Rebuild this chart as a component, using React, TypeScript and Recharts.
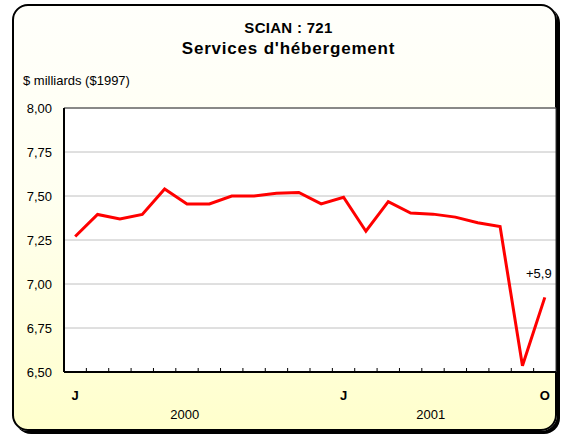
import { LineChart, Line, XAxis, YAxis, CartesianGrid, LabelList } from "recharts";

// Jan 2000 -> Oct 2001, $ milliards ($1997)
const mois = ["J", "F", "M", "A", "M", "J", "J", "A", "S", "O", "N", "D",
  "J", "F", "M", "A", "M", "J", "J", "A", "S", "O"];
const valeurs = [7.27, 7.395, 7.37, 7.395, 7.54, 7.455, 7.455, 7.5, 7.5, 7.515, 7.52,
  7.455, 7.493, 7.3, 7.468, 7.403, 7.397, 7.38, 7.348, 7.326, 6.536, 6.924];
const moisAffiches = [0, 12, 21];
const annees = ["2000", "2001"];
const positionAnnees = [4.9, 15.9];
const graduationsY = [6.5, 6.75, 7.0, 7.25, 7.5, 7.75, 8.0];
const variation = "+5,9";

const data = valeurs.map((v, i) => ({ i, mois: mois[i], valeur: v }));
const bornes = mois.slice(0, -1).map((_, i) => i + 0.5);

const police = "Arial, 'Liberation Sans', sans-serif";

const EtiquetteFin = (props: any) => {
  const { x, y, index } = props;
  if (index !== valeurs.length - 1) return null;
  return (
    <text x={x - 6} y={y - 19} textAnchor="middle" fontSize={13} fill="#000" fontFamily={police}>
      {variation}
    </text>
  );
};

export default function App() {
  const domaineX = [-0.5, mois.length - 0.5];
  return (
    <div style={{ position: "absolute", left: 0, top: 0, width: 563, height: 434, fontFamily: police }}>
      <div
        style={{
          position: "absolute",
          left: 12,
          top: 4,
          width: 541,
          height: 423,
          border: "2px solid #000",
          borderRadius: 16,
          boxShadow: "3px 3px 0 #000",
          background: "linear-gradient(to bottom, #FFFFFB 0%, #FFFFF0 45%, #FFFFCC 100%)",
        }}
      />
      <div style={{ position: "absolute", left: 0, width: 577, top: 19, textAlign: "center", fontWeight: "bold", fontSize: 15, letterSpacing: 0.3, lineHeight: "18px" }}>
        SCIAN : 721
      </div>
      <div style={{ position: "absolute", left: 0, width: 577, top: 39, textAlign: "center", fontWeight: "bold", fontSize: 17, letterSpacing: 0.8, lineHeight: "20px" }}>
        Services d'hébergement
      </div>
      <div style={{ position: "absolute", left: 23, top: 72, fontSize: 13, lineHeight: "17px" }}>
        $ milliards ($1997)
      </div>
      <div style={{ position: "absolute", left: 0, top: 0 }}>
        <LineChart width={563} height={434} data={data} margin={{ top: 108, right: 7, bottom: 12, left: 0 }}>
          <CartesianGrid horizontal vertical={false} stroke="#C0C0C0" fill="#FFFFFF" xAxisId="tk" />
          <XAxis
            xAxisId="haut"
            orientation="top"
            type="number"
            dataKey="i"
            domain={domaineX}
            ticks={[]}
            mirror
            tickLine={false}
            tick={{ fontSize: 0 }}
            axisLine={{ stroke: "#333", strokeWidth: 1 }}
          />
          <YAxis
            yAxisId="droite"
            orientation="right"
            type="number"
            domain={[6.5, 8]}
            ticks={[]}
            mirror
            tickLine={false}
            tick={{ fontSize: 0 }}
            axisLine={{ stroke: "#333", strokeWidth: 1 }}
          />
          <XAxis
            xAxisId="tk"
            type="number"
            dataKey="i"
            domain={domaineX}
            ticks={bornes}
            tickFormatter={() => ""}
            tick={{ fontSize: 0 }}
            mirror
            tickSize={4}
            tickLine={{ stroke: "#000" }}
            axisLine={{ stroke: "#000", strokeWidth: 2 }}
          />
          <XAxis
            xAxisId="lab"
            type="number"
            dataKey="i"
            domain={domaineX}
            ticks={moisAffiches}
            tickFormatter={(v: number) => mois[v]}
            axisLine={false}
            tickLine={false}
            height={25}
            tickMargin={13}
            tick={{ fontSize: 13, fontWeight: "bold", fill: "#000", fontFamily: police }}
          />
          <XAxis
            xAxisId="yr"
            type="number"
            dataKey="i"
            domain={domaineX}
            ticks={positionAnnees}
            tickFormatter={(v: number) => annees[positionAnnees.indexOf(v)]}
            axisLine={false}
            tickLine={false}
            height={25}
            tickMargin={7}
            tick={{ fontSize: 13, fill: "#000", fontFamily: police }}
          />
          <YAxis
            type="number"
            domain={[6.5, 8]}
            ticks={graduationsY}
            width={64}
            tickLine={false}
            tickMargin={6}
            axisLine={{ stroke: "#000", strokeWidth: 2 }}
            tickFormatter={(v: number) => v.toFixed(2).replace(".", ",")}
            tick={{ fontSize: 13, fill: "#000", fontFamily: police }}
          />
          <Line
            xAxisId="tk"
            type="linear"
            dataKey="valeur"
            stroke="#FF0000"
            strokeWidth={3}
            dot={false}
            activeDot={false}
            isAnimationActive={false}
          >
            <LabelList dataKey="valeur" content={EtiquetteFin} />
          </Line>
        </LineChart>
      </div>
    </div>
  );
}
